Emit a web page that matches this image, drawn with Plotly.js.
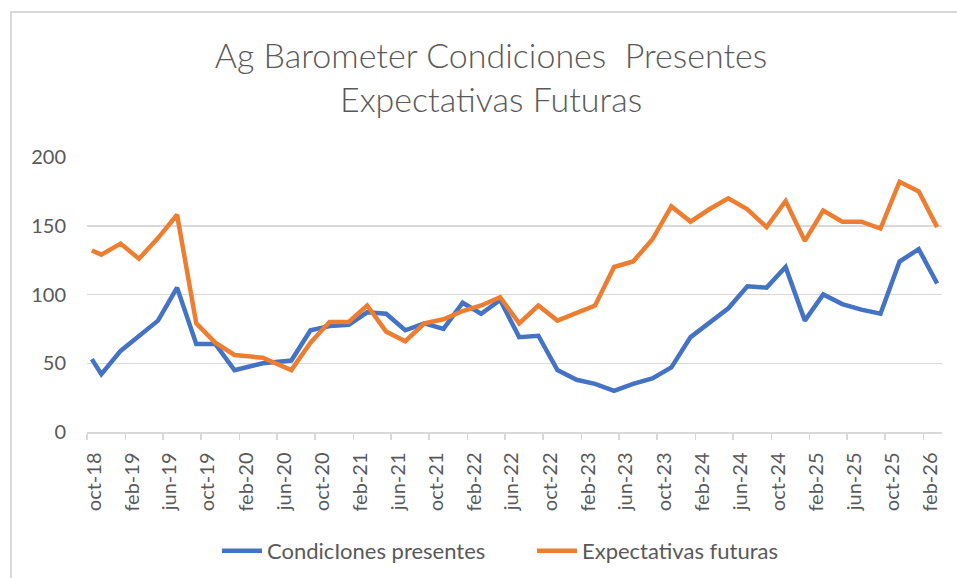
<!DOCTYPE html>
<html>
<head>
<meta charset="utf-8">
<script src="https://cdn.plot.ly/plotly-3.0.1.min.js"></script>
<style>
  html, body { margin: 0; padding: 0; background: #ffffff; }
  #wrap { position: relative; width: 957px; height: 578px; overflow: hidden; }
  #chart { position: absolute; left: 0; top: 0; width: 957px; height: 578px; }
  #frame { position: absolute; left: 10px; top: 11px; width: 960px; height: 580px;
           border-left: 2px solid #d9d9d9; border-top: 2px solid #d9d9d9; pointer-events: none; }
</style>
</head>
<body>
<div id="wrap"><div id="chart"></div><div id="frame"></div></div>
<script>
// Survey months (points sit in the middle of each month)
const months = [
  "2018-10","2018-11","2019-01","2019-03","2019-05","2019-07","2019-09","2019-11",
  "2020-01","2020-04","2020-07","2020-09","2020-11","2021-01","2021-03","2021-05",
  "2021-07","2021-09","2021-11","2022-01","2022-03","2022-05","2022-07","2022-09",
  "2022-11","2023-01","2023-03","2023-05","2023-07","2023-09","2023-11","2024-01",
  "2024-03","2024-05","2024-07","2024-09","2024-11","2025-01","2025-03","2025-05",
  "2025-07","2025-09","2025-11","2026-01","2026-03"
];
const condicionesPresentes = [
  53, 42, 59, 70, 81, 105, 64, 64,
  45, 50, 52, 74, 77, 78, 87, 86,
  74, 79, 75, 94, 86, 96, 69, 70,
  45, 38, 35, 30, 35, 39, 47, 69,
  79, 90, 106, 105, 120, 81, 100, 93,
  89, 86, 124, 133, 108
];
const expectativasFuturas = [
  132, 129, 137, 126, 141, 158, 79, 65,
  56, 54, 45, 65, 80, 80, 92, 73,
  66, 79, 82, 88, 92, 98, 79, 92,
  81, 87, 92, 120, 124, 140, 164, 153,
  162, 170, 162, 149, 168, 139, 161, 153,
  153, 148, 182, 175, 149
];
const tickDates = [
  "2018-10-01","2019-02-01","2019-06-01","2019-10-01","2020-02-01","2020-06-01",
  "2020-10-01","2021-02-01","2021-06-01","2021-10-01","2022-02-01","2022-06-01",
  "2022-10-01","2023-02-01","2023-06-01","2023-10-01","2024-02-01","2024-06-01",
  "2024-10-01","2025-02-01","2025-06-01","2025-10-01","2026-02-01"
];
const tickLabels = [
  "oct-18","feb-19","jun-19","oct-19","feb-20","jun-20","oct-20","feb-21","jun-21",
  "oct-21","feb-22","jun-22","oct-22","feb-23","jun-23","oct-23","feb-24","jun-24",
  "oct-24","feb-25","jun-25","oct-25","feb-26"
];
const seriesNames = ["CondicIones presentes", "Expectativas futuras"];
const titleText = "Ag Barometer Condiciones\u00a0 Presentes<br>Expectativas Futuras";

const FONT = "Lato, 'Open Sans', 'Liberation Sans', sans-serif";
const GREY = "#595959";

const traces = [
  {
    type: "scatter", mode: "lines", name: seriesNames[0],
    x: months, y: condicionesPresentes,
    xperiod: "M1", xperiodalignment: "middle",
    line: { color: "#4472C4", width: 4.5, shape: "linear" },
    hoverinfo: "x+y"
  },
  {
    type: "scatter", mode: "lines", name: seriesNames[1],
    x: months, y: expectativasFuturas,
    xperiod: "M1", xperiodalignment: "middle",
    line: { color: "#ED7D31", width: 4.5, shape: "linear" },
    hoverinfo: "x+y"
  }
];

const layout = {
  width: 957, height: 578,
  paper_bgcolor: "#ffffff", plot_bgcolor: "#ffffff",
  font: { family: FONT, color: GREY, size: 16 },
  margin: { l: 87, r: 15, t: 157, b: 146, pad: 0 },
  title: {
    text: titleText,
    font: { family: FONT, size: 34, color: GREY, weight: 300 },
    x: 491 / 957, xref: "container", xanchor: "center",
    y: 1 - 68 / 578, yref: "container", yanchor: "middle"
  },
  xaxis: {
    type: "date",
    range: ["2018-10-01", "2026-04-01"],
    tickmode: "array", tickvals: tickDates, ticktext: tickLabels,
    tickangle: -90,
    ticks: "outside", ticklen: 6, tickwidth: 1.5, tickcolor: "#d9d9d9",
    ticklabelshift: 7,
    ticklabelstandoff: 5,
    tickfont: { family: FONT, size: 20, color: GREY },
    showline: true, linecolor: "#d9d9d9", linewidth: 1.5,
    showgrid: false, zeroline: false, fixedrange: true
  },
  yaxis: {
    range: [0, 200], tickmode: "linear", tick0: 0, dtick: 50,
    ticks: "", ticklabelstandoff: 20,
    tickfont: { family: FONT, size: 20, color: GREY },
    showgrid: true, gridcolor: "#d9d9d9", gridwidth: 1.5,
    zeroline: false, showline: false, fixedrange: true
  },
  showlegend: true,
  legend: {
    orientation: "h",
    x: 532 / 957, xref: "container", xanchor: "center",
    y: 1 - 551 / 578, yref: "container", yanchor: "middle",
    font: { family: FONT, size: 22, color: GREY },
    itemwidth: 40, tracegroupgap: 0,
    entrywidth: 260, entrywidthmode: "pixels",
    bgcolor: "rgba(0,0,0,0)"
  }
};

Plotly.newPlot("chart", traces, layout, { displayModeBar: false, staticPlot: true });
</script>
</body>
</html>
